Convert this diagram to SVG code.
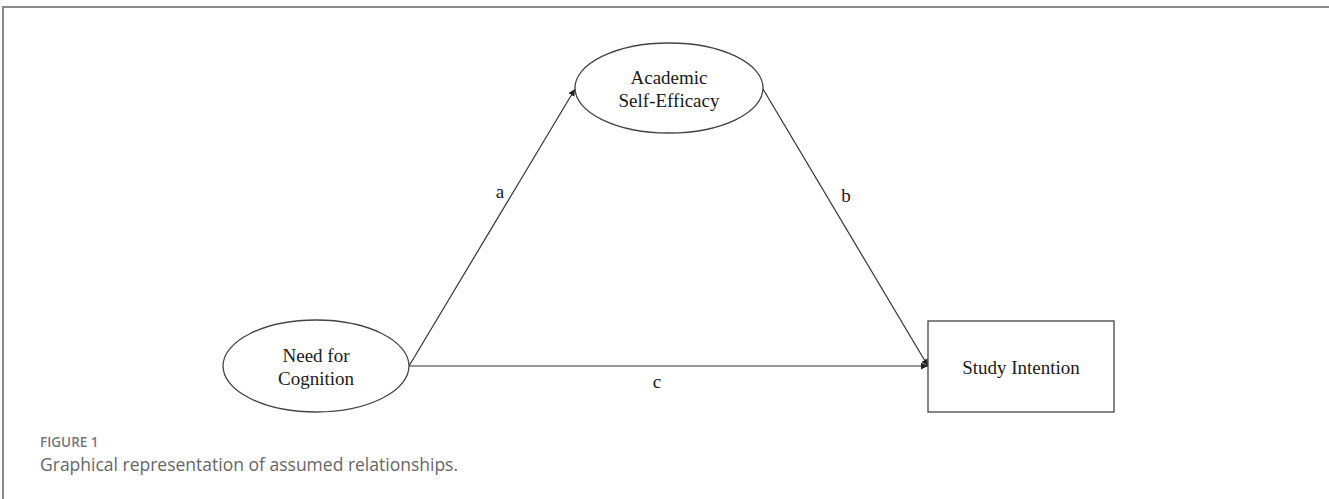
<svg xmlns="http://www.w3.org/2000/svg" width="1329" height="499" viewBox="0 0 1329 499">
<style>
.frame{fill:none;stroke:#8a8a8a;stroke-width:2}
.shape{fill:#fff;stroke:#444;stroke-width:1.3}
.edge{fill:none;stroke:#333;stroke-width:1.2}
.lbl{font-family:"Liberation Serif",serif;font-size:19px;fill:#1a1a1a;text-anchor:middle}
.cap1{font-family:"Open Sans",sans-serif;font-size:13.5px;font-weight:600;fill:#777}
.cap2{font-family:"Open Sans",sans-serif;font-size:17.5px;fill:#666}
</style>
<defs>
<marker id="arr" viewBox="0 0 10 10" refX="10" refY="5" markerWidth="7" markerHeight="7" markerUnits="userSpaceOnUse" orient="auto">
<path d="M0,0 L10,5 L0,10 z" fill="#222"/>
</marker>
</defs>
<rect width="1329" height="499" fill="#fff"/>
<path class="frame" d="M3,499 V7 H1329"/>
<g id="connectors">
<line class="edge" x1="409" y1="366" x2="575" y2="89" marker-end="url(#arr)"/>
<line class="edge" x1="763" y1="89" x2="928" y2="366" marker-end="url(#arr)"/>
<line class="edge" x1="409" y1="366" x2="928" y2="366" marker-end="url(#arr)"/>
<text class="lbl" x="500" y="198">a</text>
<text class="lbl" x="846" y="202">b</text>
<text class="lbl" x="657" y="388">c</text>
</g>
<g id="ase">
<ellipse class="shape" cx="669" cy="88" rx="94" ry="45"/>
<text class="lbl" x="669" y="84">Academic</text>
<text class="lbl" x="669" y="107">Self-Efficacy</text>
</g>
<g id="nfc">
<ellipse class="shape" cx="316" cy="366" rx="93" ry="46"/>
<text class="lbl" x="316" y="362">Need for</text>
<text class="lbl" x="316" y="385">Cognition</text>
</g>
<g id="si">
<rect class="shape" x="928" y="321" width="186" height="91"/>
<text class="lbl" x="1021" y="374">Study Intention</text>
</g>
<text class="cap1" x="40" y="447">FIGURE 1</text>
<text class="cap2" x="40" y="471">Graphical representation of assumed relationships.</text>
</svg>
